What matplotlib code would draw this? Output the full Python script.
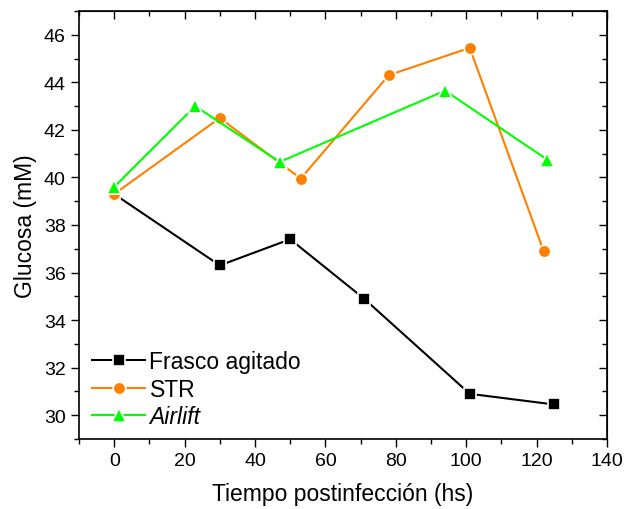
import matplotlib
matplotlib.use("Agg")
import matplotlib.pyplot as plt
from matplotlib.ticker import MultipleLocator

plt.rcParams['font.family'] = ['Liberation Sans', 'DejaVu Sans']

# datos
frasco_t = [0, 30, 50, 71, 101, 125]
frasco_g = [39.3, 36.3, 37.4, 34.9, 30.9, 30.45]

str_t = [0, 30, 53, 78, 101, 122]
str_g = [39.3, 42.5, 39.95, 44.3, 45.45, 36.9]

airlift_t = [0, 23, 47, 94, 123]
airlift_g = [39.6, 43.0, 40.65, 43.65, 40.75]

fig = plt.figure(figsize=(6.25, 5.1), dpi=100)
ax = fig.add_axes([0.1264, 0.1373, 0.8448, 0.8392])

ax.plot(frasco_t, frasco_g, color='black', lw=1.5, marker='s', ms=8,
        mec='white', mew=1.2, label='Frasco agitado')
ax.plot(str_t, str_g, color='#FF8000', lw=1.5, marker='o', ms=9,
        mec='white', mew=1.2, label='STR')
ax.plot(airlift_t, airlift_g, color='#00FF00', lw=1.5, marker='^', ms=10,
        mec='white', mew=1.2, label='Airlift')

ax.set_xlim(-10, 140)
ax.set_ylim(29, 47)
ax.xaxis.set_major_locator(MultipleLocator(20))
ax.xaxis.set_minor_locator(MultipleLocator(10))
ax.yaxis.set_major_locator(MultipleLocator(2))
ax.yaxis.set_minor_locator(MultipleLocator(1))
ax.tick_params(which='major', direction='out', length=6, width=1, labelsize=14)
ax.tick_params(which='minor', direction='out', length=3.5, width=1)
for s in ax.spines.values():
    s.set_linewidth(1.2)

# ticks espejo hacia adentro (arriba y derecha)
top = ax.secondary_xaxis('top')
top.xaxis.set_major_locator(MultipleLocator(20))
top.xaxis.set_minor_locator(MultipleLocator(10))
top.tick_params(which='major', direction='in', length=6, width=1, labeltop=False)
top.tick_params(which='minor', direction='in', length=3.5, width=1)
right = ax.secondary_yaxis('right')
right.yaxis.set_major_locator(MultipleLocator(2))
right.yaxis.set_minor_locator(MultipleLocator(1))
right.tick_params(which='major', direction='in', length=6, width=1, labelright=False)
right.tick_params(which='minor', direction='in', length=3.5, width=1)

ax.set_xlabel('Tiempo postinfección (hs)', fontsize=16.5, labelpad=9)
ax.set_ylabel('Glucosa (mM)', fontsize=16.5, labelpad=5)

leg = ax.legend(loc='lower left', bbox_to_anchor=(0.025, 0.025), frameon=False,
                fontsize=16.5, handlelength=2.3, handletextpad=0.2,
                labelspacing=0.2, borderpad=0, borderaxespad=0)
leg.get_texts()[2].set_style('italic')

fig.savefig('out.png', dpi=100)
